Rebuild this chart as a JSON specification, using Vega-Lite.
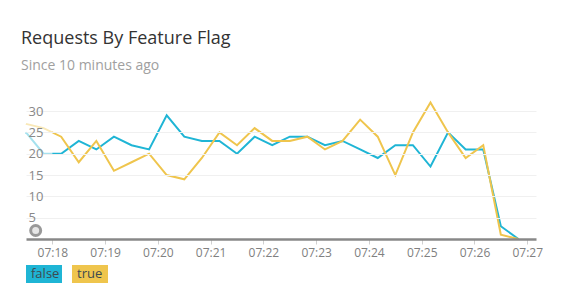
{
  "$schema": "https://vega.github.io/schema/vega-lite/v6.json",
  "width": 510,
  "height": 139,
  "autosize": {"type": "none"},
  "padding": {"left": 26, "top": 100, "right": 26, "bottom": 63},
  "background": "white",
  "config": {
    "font": "Open Sans",
    "view": {"stroke": null}
  },
  "title": {
    "text": "Requests By Feature Flag",
    "subtitle": "Since 10 minutes ago",
    "anchor": "start",
    "frame": "group",
    "dx": -5,
    "offset": 26,
    "font": "Open Sans",
    "fontSize": 18,
    "fontWeight": "normal",
    "color": "#333333",
    "subtitleFont": "Open Sans",
    "subtitleFontSize": 14,
    "subtitleColor": "#a0a0a0",
    "subtitlePadding": 11
  },
  "datasets": {
    "series": [
      {"time": "2024-01-01T07:17:30", "flag": "false", "requests": 25},
      {"time": "2024-01-01T07:17:50", "flag": "false", "requests": 20},
      {"time": "2024-01-01T07:18:10", "flag": "false", "requests": 20},
      {"time": "2024-01-01T07:18:30", "flag": "false", "requests": 23},
      {"time": "2024-01-01T07:18:50", "flag": "false", "requests": 21},
      {"time": "2024-01-01T07:19:10", "flag": "false", "requests": 24},
      {"time": "2024-01-01T07:19:30", "flag": "false", "requests": 22},
      {"time": "2024-01-01T07:19:50", "flag": "false", "requests": 21},
      {"time": "2024-01-01T07:20:10", "flag": "false", "requests": 29},
      {"time": "2024-01-01T07:20:30", "flag": "false", "requests": 24},
      {"time": "2024-01-01T07:20:50", "flag": "false", "requests": 23},
      {"time": "2024-01-01T07:21:10", "flag": "false", "requests": 23},
      {"time": "2024-01-01T07:21:30", "flag": "false", "requests": 20},
      {"time": "2024-01-01T07:21:50", "flag": "false", "requests": 24},
      {"time": "2024-01-01T07:22:10", "flag": "false", "requests": 22},
      {"time": "2024-01-01T07:22:30", "flag": "false", "requests": 24},
      {"time": "2024-01-01T07:22:50", "flag": "false", "requests": 24},
      {"time": "2024-01-01T07:23:10", "flag": "false", "requests": 22},
      {"time": "2024-01-01T07:23:30", "flag": "false", "requests": 23},
      {"time": "2024-01-01T07:23:50", "flag": "false", "requests": 21},
      {"time": "2024-01-01T07:24:10", "flag": "false", "requests": 19},
      {"time": "2024-01-01T07:24:30", "flag": "false", "requests": 22},
      {"time": "2024-01-01T07:24:50", "flag": "false", "requests": 22},
      {"time": "2024-01-01T07:25:10", "flag": "false", "requests": 17},
      {"time": "2024-01-01T07:25:30", "flag": "false", "requests": 25},
      {"time": "2024-01-01T07:25:50", "flag": "false", "requests": 21},
      {"time": "2024-01-01T07:26:10", "flag": "false", "requests": 21},
      {"time": "2024-01-01T07:26:30", "flag": "false", "requests": 3},
      {"time": "2024-01-01T07:26:50", "flag": "false", "requests": 0},
      {"time": "2024-01-01T07:17:30", "flag": "true", "requests": 27},
      {"time": "2024-01-01T07:17:50", "flag": "true", "requests": 26},
      {"time": "2024-01-01T07:18:10", "flag": "true", "requests": 24},
      {"time": "2024-01-01T07:18:30", "flag": "true", "requests": 18},
      {"time": "2024-01-01T07:18:50", "flag": "true", "requests": 23},
      {"time": "2024-01-01T07:19:10", "flag": "true", "requests": 16},
      {"time": "2024-01-01T07:19:30", "flag": "true", "requests": 18},
      {"time": "2024-01-01T07:19:50", "flag": "true", "requests": 20},
      {"time": "2024-01-01T07:20:10", "flag": "true", "requests": 15},
      {"time": "2024-01-01T07:20:30", "flag": "true", "requests": 14},
      {"time": "2024-01-01T07:20:50", "flag": "true", "requests": 19},
      {"time": "2024-01-01T07:21:10", "flag": "true", "requests": 25},
      {"time": "2024-01-01T07:21:30", "flag": "true", "requests": 22},
      {"time": "2024-01-01T07:21:50", "flag": "true", "requests": 26},
      {"time": "2024-01-01T07:22:10", "flag": "true", "requests": 23},
      {"time": "2024-01-01T07:22:30", "flag": "true", "requests": 23},
      {"time": "2024-01-01T07:22:50", "flag": "true", "requests": 24},
      {"time": "2024-01-01T07:23:10", "flag": "true", "requests": 21},
      {"time": "2024-01-01T07:23:30", "flag": "true", "requests": 23},
      {"time": "2024-01-01T07:23:50", "flag": "true", "requests": 28},
      {"time": "2024-01-01T07:24:10", "flag": "true", "requests": 24},
      {"time": "2024-01-01T07:24:30", "flag": "true", "requests": 15},
      {"time": "2024-01-01T07:24:50", "flag": "true", "requests": 25},
      {"time": "2024-01-01T07:25:10", "flag": "true", "requests": 32},
      {"time": "2024-01-01T07:25:30", "flag": "true", "requests": 25},
      {"time": "2024-01-01T07:25:50", "flag": "true", "requests": 19},
      {"time": "2024-01-01T07:26:10", "flag": "true", "requests": 22},
      {"time": "2024-01-01T07:26:30", "flag": "true", "requests": 1},
      {"time": "2024-01-01T07:26:50", "flag": "true", "requests": 0}
    ],
    "fade": [
      {"start": "2024-01-01T07:17:30", "end": "2024-01-01T07:18:00"}
    ],
    "markers": [
      {"time": "2024-01-01T07:17:41", "requests": 2}
    ]
  },
  "layer": [
    {
      "data": {"name": "series"},
      "mark": {"type": "line", "strokeWidth": 2},
      "encoding": {
        "x": {
          "field": "time",
          "type": "temporal",
          "scale": {
            "domain": [
              {"year": 2024, "month": 1, "date": 1, "hours": 7, "minutes": 17, "seconds": 30},
              {"year": 2024, "month": 1, "date": 1, "hours": 7, "minutes": 27, "seconds": 10}
            ],
            "nice": false
          },
          "axis": {
            "title": null,
            "format": "%H:%M",
            "tickCount": 20,
            "values": [
              {"year": 2024, "month": 1, "date": 1, "hours": 7, "minutes": 18},
              {"year": 2024, "month": 1, "date": 1, "hours": 7, "minutes": 19},
              {"year": 2024, "month": 1, "date": 1, "hours": 7, "minutes": 20},
              {"year": 2024, "month": 1, "date": 1, "hours": 7, "minutes": 21},
              {"year": 2024, "month": 1, "date": 1, "hours": 7, "minutes": 22},
              {"year": 2024, "month": 1, "date": 1, "hours": 7, "minutes": 23},
              {"year": 2024, "month": 1, "date": 1, "hours": 7, "minutes": 24},
              {"year": 2024, "month": 1, "date": 1, "hours": 7, "minutes": 25},
              {"year": 2024, "month": 1, "date": 1, "hours": 7, "minutes": 26},
              {"year": 2024, "month": 1, "date": 1, "hours": 7, "minutes": 27}
            ],
            "grid": false,
            "domainColor": "#888888",
            "domainWidth": 2.5,
            "tickColor": "#d0d0d0",
            "tickSize": 5,
            "tickWidth": 1,
            "labelFont": "Open Sans",
            "labelFontSize": 12,
            "labelColor": "#808080",
            "labelPadding": 3,
            "labelFlush": false,
            "labelOverlap": false,
            "zindex": 1
          }
        },
        "y": {
          "field": "requests",
          "type": "quantitative",
          "scale": {"domain": [0, 32.6], "nice": false},
          "axis": {
            "title": null,
            "tickCount": 10,
            "values": [5, 10, 15, 20, 25, 30],
            "orient": "left",
            "domain": false,
            "ticks": false,
            "tickSize": 0,
            "labelAlign": "left",
            "labelBaseline": "middle",
            "labelPadding": -2,
            "labelOverlap": false,
            "labelFont": "Open Sans",
            "labelFontSize": 13,
            "labelColor": "#888888",
            "grid": true,
            "gridColor": "#f0f0f0",
            "gridWidth": 1,
            "zindex": 1
          }
        },
        "color": {
          "field": "flag",
          "type": "nominal",
          "scale": {"domain": ["false", "true"], "range": ["#1fb5d5", "#efc54d"]},
          "legend": {
            "title": null,
            "orient": "none",
            "legendX": 0,
            "legendY": 156,
            "direction": "horizontal",
            "symbolType": "M-1,-0.5H1V0.5H-1Z",
            "symbolSize": 1296,
            "symbolStrokeWidth": 0,
            "symbolOpacity": 1,
            "labelOffset": -31,
            "labelFont": "Open Sans",
            "labelFontSize": 13,
            "labelColor": "#3d4a50",
            "columnPadding": 10,
            "padding": 0,
            "encode": {
              "symbols": {
                "update": {
                  "fill": {"scale": "color", "field": "value"}
                }
              }
            }
          }
        }
      }
    },
    {
      "data": {"name": "fade"},
      "mark": {"type": "rect", "color": "white", "opacity": 0.6},
      "encoding": {
        "x": {"field": "start", "type": "temporal"},
        "x2": {"field": "end"}
      }
    },
    {
      "data": {"name": "markers"},
      "mark": {
        "type": "point",
        "shape": "circle",
        "size": 100,
        "filled": true,
        "fill": "#e6e6e6",
        "stroke": "#999999",
        "strokeWidth": 3,
        "opacity": 1
      },
      "encoding": {
        "x": {"field": "time", "type": "temporal"},
        "y": {"field": "requests", "type": "quantitative"}
      }
    }
  ]
}
